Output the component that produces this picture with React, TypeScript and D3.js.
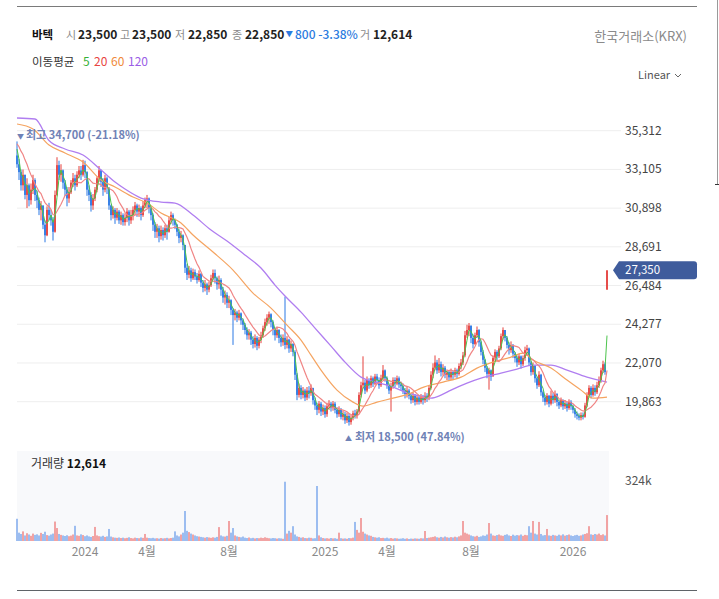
import React from 'react';
import * as d3 from 'd3';

// ---------- data ----------
const STOCK_NAME = '바텍';
const EXCHANGE = '한국거래소(KRX)';
const quoteLabels = ['시', '고', '저', '종'];
const quoteValues = [23500, 23500, 22850, 22850];
const DAY_CHANGE = -800;
const DAY_CHANGE_PCT = -3.38;
const DAY_VOLUME = 12614;
const maPeriods = [5, 20, 60, 120];

// one bar = two trading sessions (Oct 2023 .. Feb 2026)
const SESSIONS_PER_BAR = 2;
const FIRST_OPEN = 33900;
const LAST_BAR_OPEN = 26250;
const PRIOR_CLOSE = 34700;

const closes = [
  33400, 32950, 32200, 32800, 31650, 32200, 31350, 31950, 32500, 31650,
  31350, 30800, 31050, 29950, 29350, 30800, 30500, 30200, 29550, 31650,
  33350, 32800, 33050, 32350, 31950, 31450, 31800, 32350, 32600, 32200,
  32800, 33050, 32800, 33350, 32950, 31950, 31650, 31050, 31450, 31950,
  32600, 33050, 32400, 31950, 32600, 32050, 31050, 30500, 30800, 30350,
  30700, 30200, 30500, 30100, 30350, 30700, 30200, 30500, 30800, 31050,
  30700, 30900, 30500, 31050, 31350, 31450, 30900, 30500, 29950, 29550,
  29750, 29300, 29650, 29350, 29750, 29550, 30200, 30500, 30200, 29950,
  29550, 29200, 29350, 28800, 27500, 27100, 27350, 26900, 27250, 27000,
  26800, 27150, 26650, 26350, 26550, 26250, 26500, 26900, 27200, 26900,
  26550, 26800, 26250, 25800, 25950, 25500, 25650, 25100, 24800, 24950,
  24650, 24900, 24500, 24250, 23950, 23650, 23800, 23400, 23150, 23500,
  23050, 23400, 23650, 24050, 24400, 24650, 24850, 24400, 23950, 23650,
  23950, 23500, 23250, 23500, 23100, 23400, 22900, 23150, 22700, 21400,
  20250, 20650, 20250, 20500, 20100, 20500, 20350, 20650, 19950, 19650,
  19400, 19750, 19300, 19500, 19150, 19600, 19750, 19500, 19750, 19400,
  19150, 19400, 19000, 19150, 18800, 19050, 18700, 18950, 19200, 19050,
  19300, 20250, 20800, 20950, 20500, 21100, 20800, 21200, 20900, 21300,
  21100, 20800, 21200, 21650, 21200, 20800, 20500, 20750, 21100, 20900,
  21200, 20850, 20750, 20500, 20300, 20500, 20200, 19950, 20200, 19850,
  20100, 19850, 20100, 19950, 20200, 20100, 20650, 21400, 21800, 22100,
  21650, 22000, 21550, 21800, 21400, 21550, 21250, 21550, 21400, 21650,
  21450, 21900, 22100, 22500, 23650, 23950, 24200, 23500, 23150, 23650,
  23950, 23250, 22700, 22250, 21800, 21450, 21650, 21300, 22350, 22700,
  22450, 22900, 23600, 23950, 23500, 23100, 22800, 23100, 22600, 22350,
  22100, 22450, 22000, 22350, 22800, 22900, 22100, 21550, 21900, 21200,
  20800, 21400, 20400, 20100, 19850, 20200, 19750, 20200, 19950, 20300,
  19850, 19650, 19950, 19600, 19750, 19500, 19850, 19600, 19400, 19150,
  19050, 18950, 19100, 19000, 19650, 20250, 20650, 20250, 20650, 20400,
  20800, 21100, 21650, 22000, 21550, 27350,
];

const highs = [
  34700, 33700, 33100, 33100, 32600, 32600, 32300, 32300, 32800, 32600,
  31900, 31500, 31300, 31000, 30200, 31000, 31200, 30800, 30400, 31900,
  33800, 33600, 33400, 33100, 32500, 32100, 32100, 32500, 32900, 32800,
  33000, 33300, 33300, 33650, 33600, 33000, 32200, 31800, 31700, 32100,
  32700, 33300, 33100, 32600, 32800, 32700, 32100, 31100, 31000, 30900,
  30900, 30800, 30700, 30600, 30600, 30900, 30800, 30800, 31000, 31250,
  31150, 31100, 31000, 31300, 31500, 31650, 31500, 31000, 30600, 30100,
  30000, 29900, 29900, 29800, 29950, 29950, 30400, 30700, 30600, 30300,
  30000, 29700, 29600, 29400, 28800, 27700, 27600, 27500, 27450, 27400,
  27200, 27350, 27200, 26800, 26800, 26650, 26700, 27100, 27400, 27400,
  27000, 27050, 26900, 26400, 26200, 26100, 25900, 25700, 25200, 25150,
  25050, 25100, 24950, 24600, 24350, 24100, 24000, 23900, 23600, 23700,
  23600, 23550, 23850, 24200, 24600, 24850, 25000, 24900, 24500, 24100,
  24150, 24000, 23700, 23700, 25850, 23600, 23450, 23350, 23200, 22800,
  21500, 20900, 20800, 20700, 20600, 20700, 20750, 20850, 20650, 20100,
  19800, 19900, 19850, 19700, 19650, 19800, 19950, 19850, 19900, 19850,
  19550, 19600, 19500, 19350, 19300, 19250, 19200, 19100, 19350, 19400,
  19450, 20400, 21000, 22450, 21100, 21300, 21200, 21350, 21300, 21450,
  21450, 21250, 21400, 21950, 21700, 21300, 20900, 20950, 21250, 21250,
  21350, 21300, 21000, 20900, 20650, 20700, 20600, 20350, 20400, 20300,
  20250, 20200, 20300, 20250, 20400, 20350, 20800, 21600, 22050, 22500,
  22250, 22350, 22150, 22000, 21900, 21700, 21650, 21750, 21650, 21800,
  21750, 22050, 22300, 22700, 23900, 24250, 24350, 24200, 23700, 23800,
  24150, 24000, 23350, 22800, 22300, 21900, 21800, 21700, 22500, 22850,
  22800, 23050, 23750, 24100, 23950, 23600, 23250, 23300, 23150, 22700,
  22500, 22600, 22500, 22500, 23000, 23100, 22950, 22200, 22100, 21950,
  21300, 21600, 21450, 20500, 20250, 20350, 20250, 20500, 20350, 20500,
  20350, 19950, 20100, 20000, 19950, 19850, 20000, 19950, 19700, 19500,
  19300, 19200, 19250, 19250, 19800, 20400, 20800, 20750, 20850, 20800,
  21000, 21300, 21800, 22200, 22100, 27350,
];

const lows = [
  33200, 32500, 31900, 31900, 31400, 30900, 31000, 31100, 31700, 31300,
  30900, 30500, 30200, 29700, 28950, 29300, 30200, 29900, 29050, 29500,
  31600, 32500, 32400, 32000, 31600, 31000, 31200, 31700, 32100, 31900,
  32100, 32600, 32500, 32700, 32600, 31600, 31300, 30700, 30800, 31300,
  31800, 32400, 32100, 31600, 31800, 31700, 30800, 30200, 30300, 30000,
  30200, 30000, 29950, 29900, 29900, 30100, 29900, 30000, 30200, 30500,
  30400, 30400, 30200, 30400, 30900, 30900, 30600, 30200, 29600, 29200,
  29200, 28950, 29100, 29050, 29200, 29100, 29500, 30000, 29900, 29700,
  29300, 28900, 28950, 28500, 27200, 26800, 26900, 26700, 26800, 26800,
  26600, 26700, 26400, 26100, 26150, 25950, 26100, 26400, 26800, 26600,
  26250, 26300, 25900, 25500, 25400, 25200, 25200, 24800, 23100, 24500,
  24400, 24500, 24250, 23950, 23700, 23400, 23400, 23100, 22900, 22950,
  22800, 22900, 23200, 23500, 23900, 24200, 24300, 24100, 23650, 23350,
  23500, 23200, 23000, 23050, 22850, 22900, 22650, 22700, 22450, 21100,
  19950, 20100, 20000, 20050, 19900, 19950, 20050, 20200, 19700, 19400,
  19100, 19200, 19050, 19100, 18950, 19000, 19400, 19300, 19350, 19200,
  18950, 19000, 18850, 18800, 18600, 18650, 18500, 18550, 18800, 18900,
  18900, 19200, 20100, 20600, 20300, 20400, 20600, 20650, 20700, 20800,
  20850, 20600, 20700, 21100, 21000, 20600, 20300, 19300, 20600, 20700,
  20800, 20650, 20500, 20300, 20050, 20100, 20000, 19750, 19800, 19650,
  19700, 19700, 19750, 19700, 19800, 19850, 19950, 20550, 21200, 21650,
  21450, 21500, 21300, 21350, 21200, 21100, 21050, 21100, 21150, 21250,
  21200, 21350, 21700, 21950, 22400, 23500, 23600, 23200, 22900, 23100,
  23500, 23000, 22500, 22000, 21550, 21200, 20550, 21050, 21300, 22200,
  22200, 22350, 22800, 23400, 23300, 22900, 22550, 22650, 22350, 22100,
  21850, 21950, 21750, 21900, 22200, 22500, 21900, 21350, 21400, 20950,
  20600, 20700, 20200, 19850, 19650, 19700, 19550, 19650, 19750, 19800,
  19600, 19450, 19550, 19400, 19450, 19300, 19400, 19400, 19200, 18950,
  18850, 18800, 18800, 18850, 18950, 19550, 20100, 20050, 20150, 20200,
  20300, 20650, 20950, 21500, 21400, 26250,
];

const volumes = [
  120000, 45000, 38000, 52000, 30000, 42000, 35000, 28000, 40000, 33000,
  36000, 30000, 44000, 38000, 50000, 32000, 29000, 35000, 40000, 105000,
  70000, 38000, 33000, 30000, 27000, 31000, 26000, 29000, 35000, 82000,
  30000, 28000, 36000, 32000, 26000, 30000, 25000, 22000, 27000, 76000,
  30000, 26000, 24000, 28000, 22000, 25000, 65000, 24000, 20000, 18000,
  17000, 19000, 16000, 18000, 15000, 17000, 20000, 16000, 14000, 18000,
  16000, 15000, 19000, 17000, 38000, 18000, 16000, 15000, 17000, 14000,
  15000, 13000, 16000, 14000, 15000, 17000, 14000, 16000, 18000, 52000,
  30000, 25000, 35000, 45000, 162000, 55000, 48000, 40000, 35000, 30000,
  26000, 24000, 22000, 20000, 18000, 21000, 19000, 17000, 20000, 18000,
  22000, 75000, 30000, 25000, 24000, 28000, 108000, 45000, 70000, 30000,
  25000, 22000, 20000, 24000, 18000, 16000, 19000, 15000, 17000, 14000,
  16000, 15000, 18000, 16000, 20000, 17000, 15000, 14000, 16000, 15000,
  13000, 15000, 14000, 12000, 320000, 40000, 55000, 45000, 80000, 35000,
  25000, 22000, 18000, 20000, 16000, 15000, 18000, 17000, 14000, 15000,
  297000, 30000, 20000, 16000, 14000, 15000, 13000, 16000, 14000, 15000,
  12000, 45000, 15000, 13000, 14000, 12000, 16000, 15000, 18000, 103000,
  60000, 45000, 124000, 50000, 40000, 35000, 30000, 28000, 22000, 20000,
  18000, 20000, 16000, 17000, 15000, 18000, 14000, 16000, 13000, 15000,
  14000, 12000, 13000, 15000, 12000, 14000, 11000, 13000, 12000, 14000,
  13000, 12000, 15000, 14000, 54000, 16000, 18000, 20000, 22000, 25000,
  20000, 18000, 22000, 19000, 24000, 20000, 18000, 21000, 19000, 23000,
  20000, 25000, 30000, 108000, 45000, 40000, 35000, 30000, 26000, 24000,
  28000, 22000, 25000, 30000, 28000, 35000, 97000, 40000, 30000, 28000,
  32000, 35000, 30000, 28000, 33000, 36000, 30000, 27000, 34000, 29000,
  32000, 30000, 35000, 28000, 33000, 31000, 80000, 45000, 108000, 40000,
  35000, 103000, 38000, 30000, 32000, 65000, 30000, 28000, 33000, 30000,
  28000, 34000, 30000, 36000, 29000, 32000, 35000, 30000, 27000, 31000,
  33000, 28000, 30000, 35000, 38000, 42000, 80000, 36000, 33000, 38000,
  35000, 40000, 32000, 36000, 30000, 140000,
];

// long averages (their windows reach before the shown range)
const ma60Index = [0, 8, 16, 24, 33, 42, 49, 58, 65, 72, 82, 88, 98, 108, 118, 127, 135, 142, 147, 152, 160, 168, 173, 180, 188, 197, 202, 213, 222, 230, 238, 247, 253, 258, 267, 275, 282, 288, 295];
const ma60Values = [35694, 35409, 34497, 34040, 33527, 32500, 32101, 31531, 31189, 30618, 30048, 29364, 28394, 27368, 26056, 25200, 24231, 23375, 22519, 21664, 20523, 19839, 19611, 19839, 20067, 20352, 20637, 20980, 21265, 21778, 22120, 22405, 22633, 22234, 21778, 21094, 20523, 20067, 20124];
const ma120Index = [0, 9, 16, 24, 33, 42, 49, 54, 62, 72, 79, 88, 97, 105, 114, 122, 129, 134, 142, 149, 157, 164, 172, 179, 187, 194, 202, 207, 212, 217, 225, 232, 242, 250, 258, 267, 275, 285, 295];
const ma120Values = [36036, 35979, 34750, 34268, 33926, 33071, 32386, 31987, 31474, 31246, 31189, 30504, 29649, 29022, 28223, 27482, 26512, 25885, 24972, 24060, 23033, 22120, 21265, 20980, 20751, 20409, 20181, 20067, 20238, 20523, 20922, 21207, 21493, 21721, 21949, 21949, 21664, 21265, 20980];

const priceTicks = [19863, 22070, 24277, 26484, 28691, 30898, 33105, 35312];
const volumeTicks = [324000];
const dateTickIndex = [34, 65, 106, 154, 185, 227, 278];
const dateTickLabels = ['2024', '4월', '8월', '2025', '4월', '8월', '2026'];

// ---------- chart ----------
const FONT = '"Noto Sans CJK KR", "Noto Sans", sans-serif';
const UP = '#e5403d';
const DOWN = '#2a78e4';
const maColors = ['#4cc44c', '#f08585', '#f5a461', '#b07ef0'];
const legendColors = ['#35b135', '#e8453f', '#f08a3a', '#9a5ee6'];

function movingAverage(values: number[], window: number, prior: number) {
  return values.map((_, i) => {
    let sum = 0;
    for (let k = i - window + 1; k <= i; k++) sum += k < 0 ? prior : values[k];
    return sum / window;
  });
}

export default function App() {
  const W = 719;
  const H = 599;
  const n = closes.length;
  const fmt = d3.format(',');

  const x = d3.scaleLinear().domain([0, n - 1]).range([17, 607]);
  const y = d3.scaleLinear().domain([19863, 35312]).range([401.7, 130.7]);
  const yv = d3.scaleLinear().domain([0, 324000]).range([541, 481]);

  const opens = closes.map((c, i) => (i === 0 ? FIRST_OPEN : i === n - 1 ? LAST_BAR_OPEN : closes[i - 1]));
  const last = closes[n - 1];

  const ma5 = movingAverage(closes, Math.ceil(maPeriods[0] / SESSIONS_PER_BAR), PRIOR_CLOSE);
  const ma20 = movingAverage(closes, Math.ceil(maPeriods[1] / SESSIONS_PER_BAR), PRIOR_CLOSE);

  const lineIdx = d3.line<number>().x((_, i) => x(i)).y((d) => y(d)).curve(d3.curveLinear);
  const lineSample = (idx: number[]) =>
    d3.line<number>().x((_, i) => x(idx[i])).y((d) => y(d)).curve(d3.curveMonotoneX);

  const iMax = d3.maxIndex(highs);
  const iMin = d3.minIndex(lows);
  const hi = highs[iMax];
  const lo = lows[iMin];
  const hiPct = (((last - hi) / hi) * 100).toFixed(2);
  const loPct = (((last - lo) / lo) * 100).toFixed(2);

  const bw = 1.7;
  const colorOf = (i: number) => (closes[i] > opens[i] ? UP : closes[i] < opens[i] ? DOWN : '#222');

  const tagY = y(last);
  const labelX = [66, 120, 175, 232];
  const valueX = [78, 132, 188, 245];

  return (
    <svg
      width={W}
      height={H}
      style={{ position: 'absolute', left: 0, top: 0, background: '#fff', fontFamily: FONT }}
    >
      {/* frame lines */}
      <line x1={17} x2={697} y1={6.5} y2={6.5} stroke="#7a7a7a" strokeWidth={1} />
      <line x1={717.5} x2={717.5} y1={0} y2={184} stroke="#9a9a9a" strokeWidth={1} />
      <line x1={715} x2={719} y1={184.5} y2={184.5} stroke="#333" strokeWidth={1} />
      <line x1={17} x2={697} y1={590.5} y2={590.5} stroke="#5f6368" strokeWidth={1.2} />

      {/* header */}
      <text x={32} y={39} fontSize={11.5} fontWeight={700} fill="#111">{STOCK_NAME}</text>
      {quoteLabels.map((lab, k) => (
        <g key={lab}>
          <text x={labelX[k]} y={39} fontSize={11} fill="#8a8a8a">{lab}</text>
          <text x={valueX[k]} y={39} fontSize={12} fill="#222" fontWeight={600}>{fmt(quoteValues[k])}</text>
        </g>
      ))}
      <text x={285.5} y={37} fontSize={7.5} fill="#2b7be0">▼</text>
      <text x={295} y={39} fontSize={12} fill="#2b7be0" fontWeight={500}>
        {`${fmt(Math.abs(DAY_CHANGE))} ${DAY_CHANGE_PCT.toFixed(2)}%`}
      </text>
      <text x={360} y={39} fontSize={11} fill="#8a8a8a">거</text>
      <text x={373} y={39} fontSize={12} fill="#222" fontWeight={600}>{fmt(DAY_VOLUME)}</text>

      <text x={32} y={66} fontSize={11.5} fill="#333">이동평균</text>
      <text y={66} fontSize={12}>
        {maPeriods.map((p, k) => (
          <tspan key={p} x={[83, 94, 111, 128][k]} fill={legendColors[k]}>{p}</tspan>
        ))}
      </text>
      <text x={687} y={41} fontSize={13} fill="#8a8a8a" textAnchor="end">{EXCHANGE}</text>
      <text x={638} y={79} fontSize={11} fill="#555">Linear</text>
      <polyline points="675,74 678,77 681,74" fill="none" stroke="#666" strokeWidth={1} />

      {/* price grid + axis */}
      {priceTicks.map((t) => (
        <g key={t}>
          <line x1={17} x2={621} y1={y(t)} y2={y(t)} stroke="#eeeeee" strokeWidth={1} />
          <text x={625} y={y(t) + 4} fontSize={12} fill="#444">{fmt(t)}</text>
        </g>
      ))}

      {/* candles */}
      <g>
        {closes.map((c, i) => {
          const o = opens[i];
          const col = colorOf(i);
          const top = y(Math.max(o, c));
          const bot = y(Math.min(o, c));
          const h = Math.max(1, bot - top);
          return (
            <g key={i}>
              <line
                x1={x(i)}
                x2={x(i)}
                y1={y(Math.max(highs[i], o, c))}
                y2={y(Math.min(lows[i], o, c))}
                stroke={col}
                strokeWidth={1}
              />
              <rect x={x(i) - bw / 2} y={top} width={bw} height={h} fill={col} />
            </g>
          );
        })}
      </g>

      {/* moving averages */}
      <path d={lineSample(ma120Index)(ma120Values) || ''} fill="none" stroke={maColors[3]} strokeWidth={1.3} />
      <path d={lineSample(ma60Index)(ma60Values) || ''} fill="none" stroke={maColors[2]} strokeWidth={1.2} />
      <path d={lineIdx(ma20) || ''} fill="none" stroke={maColors[1]} strokeWidth={1.2} />
      <path d={lineIdx(ma5) || ''} fill="none" stroke={maColors[0]} strokeWidth={1} />

      {/* high / low markers */}
      <text x={x(iMax)} y={y(hi) - 2} fontSize={11} fontWeight={600} fill="#6f82b6">
        <tspan fontSize={7}>▼</tspan>
        <tspan dx={2}>{`최고 ${fmt(hi)} (${hiPct}%)`}</tspan>
      </text>
      <text x={x(iMin) - 4} y={y(lo) + 15} fontSize={11} fontWeight={600} fill="#6f82b6">
        <tspan fontSize={7}>▲</tspan>
        <tspan dx={3}>{`최저 ${fmt(lo)} (${loPct}%)`}</tspan>
      </text>

      {/* last price tag */}
      <path
        d={`M613,${tagY} L619,${tagY - 9} L694,${tagY - 9} Q697,${tagY - 9} 697,${tagY - 6} L697,${tagY + 6} Q697,${tagY + 9} 694,${tagY + 9} L619,${tagY + 9} Z`}
        fill="#3f5c9c"
      />
      <text x={625} y={tagY + 4} fontSize={11.5} fill="#fff">{fmt(last)}</text>

      {/* volume pane */}
      <rect x={17} y={451} width={592} height={90} fill="#f8f9fb" />
      <g>
        {volumes.map((v, i) => (
          <rect
            key={i}
            x={x(i) - bw / 2}
            y={yv(v)}
            width={bw}
            height={541 - yv(v)}
            fill={closes[i] >= opens[i] ? '#ee8181' : '#79a6ec'}
            opacity={0.85}
          />
        ))}
      </g>
      <text x={31} y={468} fontSize={12}>
        <tspan fill="#333">거래량 </tspan>
        <tspan fill="#111" fontWeight={700}>{fmt(DAY_VOLUME)}</tspan>
      </text>
      {volumeTicks.map((t) => (
        <text key={t} x={625} y={yv(t) + 4} fontSize={12} fill="#555">{`${Math.round(t / 1000)}k`}</text>
      ))}

      {/* date axis */}
      {dateTickIndex.map((idx, k) => (
        <text key={k} x={x(idx)} y={556} fontSize={12} fill="#8a8a8a" textAnchor="middle">
          {dateTickLabels[k]}
        </text>
      ))}
    </svg>
  );
}
